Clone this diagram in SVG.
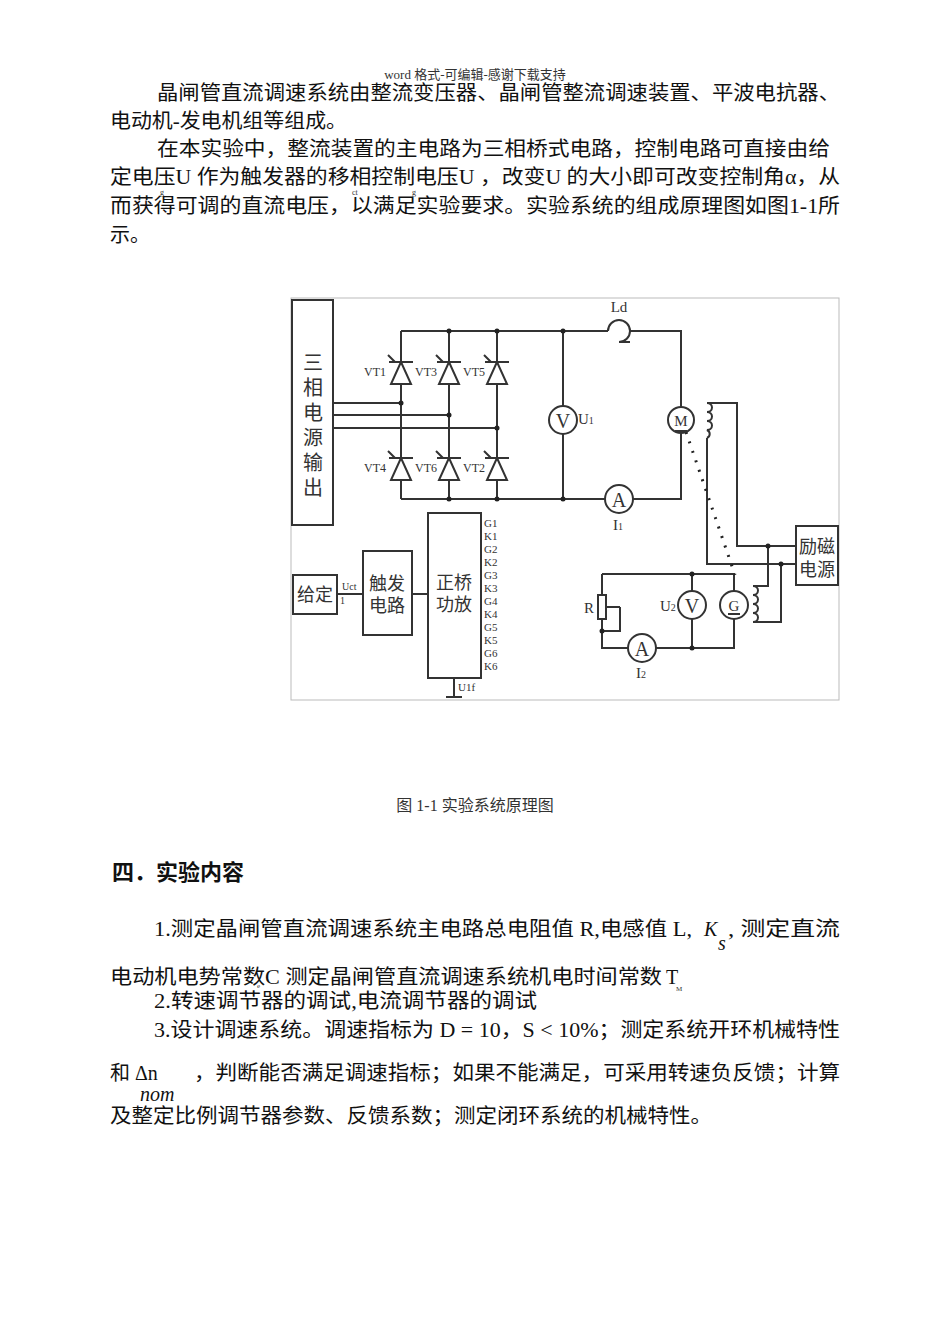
<svg xmlns="http://www.w3.org/2000/svg" width="950" height="1343" viewBox="0 0 950 1343">
<style>
.t{font-family:"Liberation Serif","Noto Sans CJK SC",serif;font-size:20px;fill:#111}
.s{font-family:"Liberation Serif","Noto Sans CJK SC",serif;fill:#333}
.w{stroke:#333;stroke-width:2;fill:none}
.c{stroke:#333;stroke-width:2;fill:#fff}
.d{fill:#222}
</style>
<rect width="950" height="1343" fill="#fff"/>
<g id="text">
<text class="s" x="475" y="79" font-size="13" text-anchor="middle">word 格式-可编辑-感谢下载支持</text>
<text class="t" x="157" y="100" textLength="683" lengthAdjust="spacingAndGlyphs">晶闸管直流调速系统由整流变压器、晶闸管整流调速装置、平波电抗器、</text>
<text class="t" x="110" y="128" textLength="237" lengthAdjust="spacingAndGlyphs">电动机-发电机组等组成。</text>
<text class="t" x="157" y="156" textLength="673" lengthAdjust="spacingAndGlyphs">在本实验中，整流装置的主电路为三相桥式电路，控制电路可直接由给</text>
<text class="t" x="110" y="184" textLength="730" lengthAdjust="spacingAndGlyphs">定电压U 作为触发器的移相控制电压U ，改变U 的大小即可改变控制角α，从</text>
<text class="s" x="160" y="195" font-size="8">g</text><text class="s" x="352" y="195" font-size="8">ct</text><text class="s" x="412" y="195" font-size="8">g</text>
<text class="t" x="110" y="213" textLength="730" lengthAdjust="spacingAndGlyphs">而获得可调的直流电压，以满足实验要求。实验系统的组成原理图如图1-1所</text>
<text class="t" x="110" y="242">示。</text>
<text class="s" x="475" y="811" font-size="16" text-anchor="middle">图 1-1 实验系统原理图</text>
<text x="112" y="880" font-family="Noto Sans CJK SC,sans-serif" font-size="22" font-weight="bold" fill="#111">四．实验内容</text>
<text class="t" x="154" y="936" textLength="538" lengthAdjust="spacingAndGlyphs">1.测定晶闸管直流调速系统主电路总电阻值 R,电感值 L,</text>
<text class="t" x="704" y="936" font-style="italic">K</text><text class="t" x="718" y="950" font-size="13" font-style="italic">s</text>
<text class="t" x="728" y="936" textLength="112" lengthAdjust="spacingAndGlyphs">,  测定直流</text>
<text class="t" x="110" y="984" textLength="552" lengthAdjust="spacingAndGlyphs">电动机电势常数C 测定晶闸管直流调速系统机电时间常数</text>
<text class="t" x="666" y="984">T</text>
<text class="s" x="676" y="991" font-size="7">M</text>
<text class="t" x="154" y="1008" textLength="383" lengthAdjust="spacingAndGlyphs">2.转速调节器的调试,电流调节器的调试</text>
<text class="s" x="257" y="988" font-size="7">e</text>
<text class="t" x="154" y="1037" textLength="686" lengthAdjust="spacingAndGlyphs">3.设计调速系统。调速指标为 D = 10，S &lt; 10%；测定系统开环机械特性</text>
<text class="t" x="110" y="1080">和 Δn</text>
<text class="t" x="140" y="1101" font-size="16" font-style="italic">nom</text>
<text class="t" x="194" y="1080" textLength="646" lengthAdjust="spacingAndGlyphs">，判断能否满足调速指标；如果不能满足，可采用转速负反馈；计算</text>
<text class="t" x="110" y="1123" textLength="602" lengthAdjust="spacingAndGlyphs">及整定比例调节器参数、反馈系数；测定闭环系统的机械特性。</text>
</g>
<rect x="291" y="298" width="548" height="402" fill="none" stroke="#bbb" stroke-width="1"/>
<g id="connectors">
<path class="w" d="M333 403H401M333 415H449M333 428H497"/>
<path class="w" d="M401 331V499M449 331V499M497 331V499M401 331H608M630 331H681V499H401M563 331V499"/>
<path class="w" d="M608 331 A11 11 0 1 1 619 342 H630"/>
<path class="w" d="M707 403H737V546H796M707 438V564H796M768 546V586H753M781 564V622H753"/>
<path class="w" d="M602 574H734V648H602V574M692 574V648M620 607H604M620 607V631H602"/>
<path class="w" d="M337 594H363M412 594H428M454 678V697M446 697H462"/>
<path d="M686 432L735 575" stroke="#222" stroke-width="3" stroke-dasharray="2 8" fill="none"/>
<path class="w" d="M707 403a5 4.5 0 0 1 0 9a5 4.5 0 0 1 0 9a5 4.5 0 0 1 0 9a5 4.5 0 0 1 0 8"/>
<path class="w" d="M753 586a5 4.5 0 0 1 0 9a5 4.5 0 0 1 0 9a5 4.5 0 0 1 0 9a5 4.5 0 0 1 0 9"/>
<g class="d"><circle cx="449" cy="331" r="2.5"/><circle cx="497" cy="331" r="2.5"/><circle cx="563" cy="331" r="2.5"/><circle cx="449" cy="499" r="2.5"/><circle cx="497" cy="499" r="2.5"/><circle cx="563" cy="499" r="2.5"/><circle cx="401" cy="403" r="2.5"/><circle cx="449" cy="415" r="2.5"/><circle cx="497" cy="428" r="2.5"/><circle cx="768" cy="546" r="2.5"/><circle cx="781" cy="564" r="2.5"/><circle cx="692" cy="574" r="2.5"/><circle cx="692" cy="648" r="2.5"/><circle cx="602" cy="631" r="2.5"/></g>
</g>
<g id="thyristors">
<g id="VT1"><path class="c" d="M401 362L391 384H411Z"/><path class="w" d="M389 362H413M395 362L388 355"/><text class="s" x="364" y="376" font-size="12">VT1</text></g>
<g id="VT3"><path class="c" d="M449 362L439 384H459Z"/><path class="w" d="M437 362H461M443 362L436 355"/><text class="s" x="415" y="376" font-size="12">VT3</text></g>
<g id="VT5"><path class="c" d="M497 362L487 384H507Z"/><path class="w" d="M485 362H509M491 362L484 355"/><text class="s" x="463" y="376" font-size="12">VT5</text></g>
<g id="VT4"><path class="c" d="M401 458L391 480H411Z"/><path class="w" d="M389 458H413M395 458L388 451"/><text class="s" x="364" y="472" font-size="12">VT4</text></g>
<g id="VT6"><path class="c" d="M449 458L439 480H459Z"/><path class="w" d="M437 458H461M443 458L436 451"/><text class="s" x="415" y="472" font-size="12">VT6</text></g>
<g id="VT2"><path class="c" d="M497 458L487 480H507Z"/><path class="w" d="M485 458H509M491 458L484 451"/><text class="s" x="463" y="472" font-size="12">VT2</text></g>
</g>
<g id="source"><rect class="c" x="292" y="300" width="41" height="225"/><text class="s" font-size="20" text-anchor="middle"><tspan x="313" y="370">三</tspan><tspan x="313" y="395">相</tspan><tspan x="313" y="420">电</tspan><tspan x="313" y="445">源</tspan><tspan x="313" y="470">输</tspan><tspan x="313" y="495">出</tspan></text></g>
<g id="Ld"><text class="s" x="619" y="312" font-size="15" text-anchor="middle">Ld</text></g>
<g id="V1"><circle class="c" cx="563" cy="420" r="14"/><text class="s" x="563" y="428" font-size="20" text-anchor="middle">V</text><text class="s" x="578" y="424" font-size="15">U<tspan font-size="10">1</tspan></text></g>
<g id="M"><circle class="c" cx="681" cy="420" r="13"/><text class="s" x="681" y="426" font-size="15" text-anchor="middle">M</text><path class="w" d="M675 431H687" stroke-width="1"/></g>
<g id="A1"><circle class="c" cx="619" cy="499" r="14"/><text class="s" x="619" y="507" font-size="20" text-anchor="middle">A</text><text class="s" x="613" y="530" font-size="15">I<tspan font-size="10">1</tspan></text></g>
<g id="lici"><rect class="c" x="796" y="526" width="42" height="59"/><text class="s" x="817" y="553" font-size="18" text-anchor="middle">励磁</text><text class="s" x="817" y="576" font-size="18" text-anchor="middle">电源</text></g>
<g id="R"><rect class="c" x="598" y="595" width="8" height="24"/><text class="s" x="584" y="613" font-size="15">R</text></g>
<g id="V2"><circle class="c" cx="692" cy="605" r="14"/><text class="s" x="692" y="613" font-size="20" text-anchor="middle">V</text><text class="s" x="660" y="611" font-size="15">U<tspan font-size="10">2</tspan></text></g>
<g id="G"><circle class="c" cx="734" cy="605" r="14"/><text class="s" x="734" y="611" font-size="15" text-anchor="middle">G</text><path class="w" d="M728 614H740" stroke-width="1"/></g>
<g id="A2"><circle class="c" cx="642" cy="648" r="14"/><text class="s" x="642" y="656" font-size="20" text-anchor="middle">A</text><text class="s" x="636" y="678" font-size="15">I<tspan font-size="10">2</tspan></text></g>
<g id="geiding"><rect class="c" x="293" y="575" width="44" height="39"/><text class="s" x="315" y="601" font-size="18" text-anchor="middle">给定</text><text class="s" x="342" y="590" font-size="10">Uct</text><text class="s" x="340" y="604" font-size="10">1</text></g>
<g id="chufa"><rect class="c" x="363" y="551" width="49" height="84"/><text class="s" x="387" y="590" font-size="18" text-anchor="middle">触发</text><text class="s" x="387" y="612" font-size="18" text-anchor="middle">电路</text></g>
<g id="zhengqiao"><rect class="c" x="428" y="513" width="53" height="165"/><text class="s" x="454" y="589" font-size="18" text-anchor="middle">正桥</text><text class="s" x="454" y="611" font-size="18" text-anchor="middle">功放</text>
<text class="s" x="484" font-size="11"><tspan x="484" y="527">G1</tspan><tspan x="484" y="540">K1</tspan><tspan x="484" y="553">G2</tspan><tspan x="484" y="566">K2</tspan><tspan x="484" y="579">G3</tspan><tspan x="484" y="592">K3</tspan><tspan x="484" y="605">G4</tspan><tspan x="484" y="618">K4</tspan><tspan x="484" y="631">G5</tspan><tspan x="484" y="644">K5</tspan><tspan x="484" y="657">G6</tspan><tspan x="484" y="670">K6</tspan></text>
<text class="s" x="458" y="691" font-size="11">U1f</text></g>
</svg>
